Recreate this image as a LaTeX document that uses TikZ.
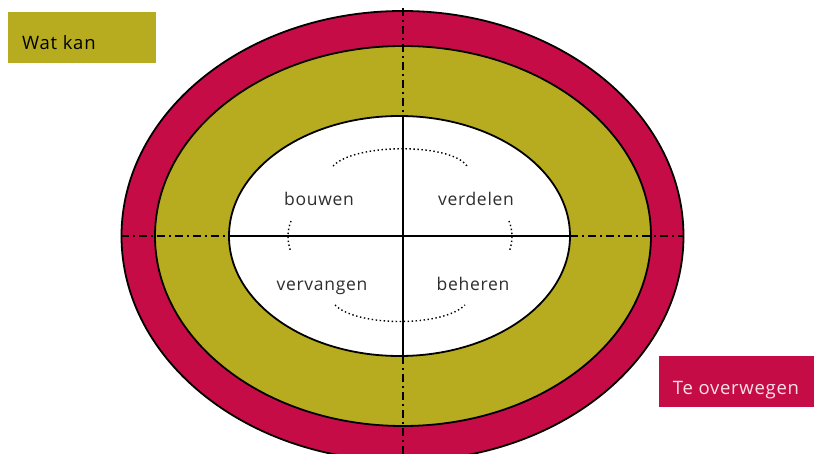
\documentclass[tikz,border=0pt]{standalone}
\usepackage{fontspec}
\setmainfont{Open Sans}[LetterSpace=4]
\definecolor{crimson}{HTML}{C60C46}
\definecolor{olivebar}{HTML}{B7AC1F}
\definecolor{txt}{HTML}{2E2E2E}
\tikzset{
  ring/.style={draw=black, line width=1.8pt},
  dashdot/.style={draw=black, line width=1.8pt, dash pattern=on 8pt off 4pt on 2pt off 4pt},
  cross/.style={draw=black, line width=1.6pt},
  dotarc/.style={draw=black, line width=1.4pt, dash pattern=on 1.4pt off 2.6pt},
  word/.style={text=txt, anchor=base, inner sep=0pt, font=\fontsize{17.5}{20}\selectfont},
  labelbox/.style={anchor=north west, minimum height=51pt, inner sep=0pt},
  boxtext/.style={anchor=base, inner sep=0pt, font=\fontsize{18.5}{21}\selectfont}
}
\begin{document}
\begin{tikzpicture}[x=1pt,y=-1pt]
\useasboundingbox (0,0) rectangle (814,454);
\begin{scope}
\clip (0,0) rectangle (814,454);
\coordinate (c) at (403,236);
\filldraw[ring, fill=crimson] (402.5,236) ellipse [x radius=281, y radius=225];
\filldraw[ring, fill=olivebar] (c) ellipse [x radius=248, y radius=190];
\filldraw[ring, fill=white] (399.5,236) ellipse [x radius=170.5, y radius=120];
\coordinate (top) at (403,8);
\coordinate (itop) at (403,116);
\coordinate (ibot) at (403,356);
\coordinate (bot) at (403,460);
\coordinate (left) at (121,236);
\coordinate (ileft) at (229,236);
\coordinate (iright) at (570,236);
\coordinate (right) at (684,236);
\draw[dashdot] (top) -- (itop);
\draw[dashdot] (ibot) -- (bot);
\draw[dashdot] (left) -- (ileft);
\draw[dashdot] (iright) -- (right);
\draw[cross] (itop) -- (ibot);
\draw[cross] (ileft) -- (iright);
\end{scope}
% dotted arcs
\coordinate (ta) at (333,166);
\coordinate (tb) at (467,166);
\coordinate (ba) at (335,305);
\coordinate (bb) at (465,305);
\coordinate (la) at (291,221);
\coordinate (lb) at (291,252);
\coordinate (ra) at (509,221);
\coordinate (rb) at (509,252);
\draw[dotarc] (ta) .. controls (355,143) and (451,143) .. (tb);
\draw[dotarc] (ba) .. controls (357,327) and (443,327) .. (bb);
\draw[dotarc] (la) .. controls (287,231) and (287,242) .. (lb);
\draw[dotarc] (ra) .. controls (513,231) and (513,242) .. (rb);
% words
\node[word] (bouwen) at (319,206) {bouwen};
\node[word] (verdelen) at (476,206) {verdelen};
\node[word] (vervangen) at (322,291) {vervangen};
\node[word] (beheren) at (473,291) {beheren};
% label boxes
\node[labelbox, fill=olivebar, minimum width=148pt] (watkan) at (8,12) {};
\node[boxtext, anchor=base west, text=black] (watkantext) at (22,50) {Wat kan};
\node[labelbox, fill=crimson, minimum width=155pt] (overwegen) at (659,356) {};
\node[boxtext, text=white!88!crimson] (overwegentext) at (736,394) {Te overwegen};
\end{tikzpicture}
\end{document}
